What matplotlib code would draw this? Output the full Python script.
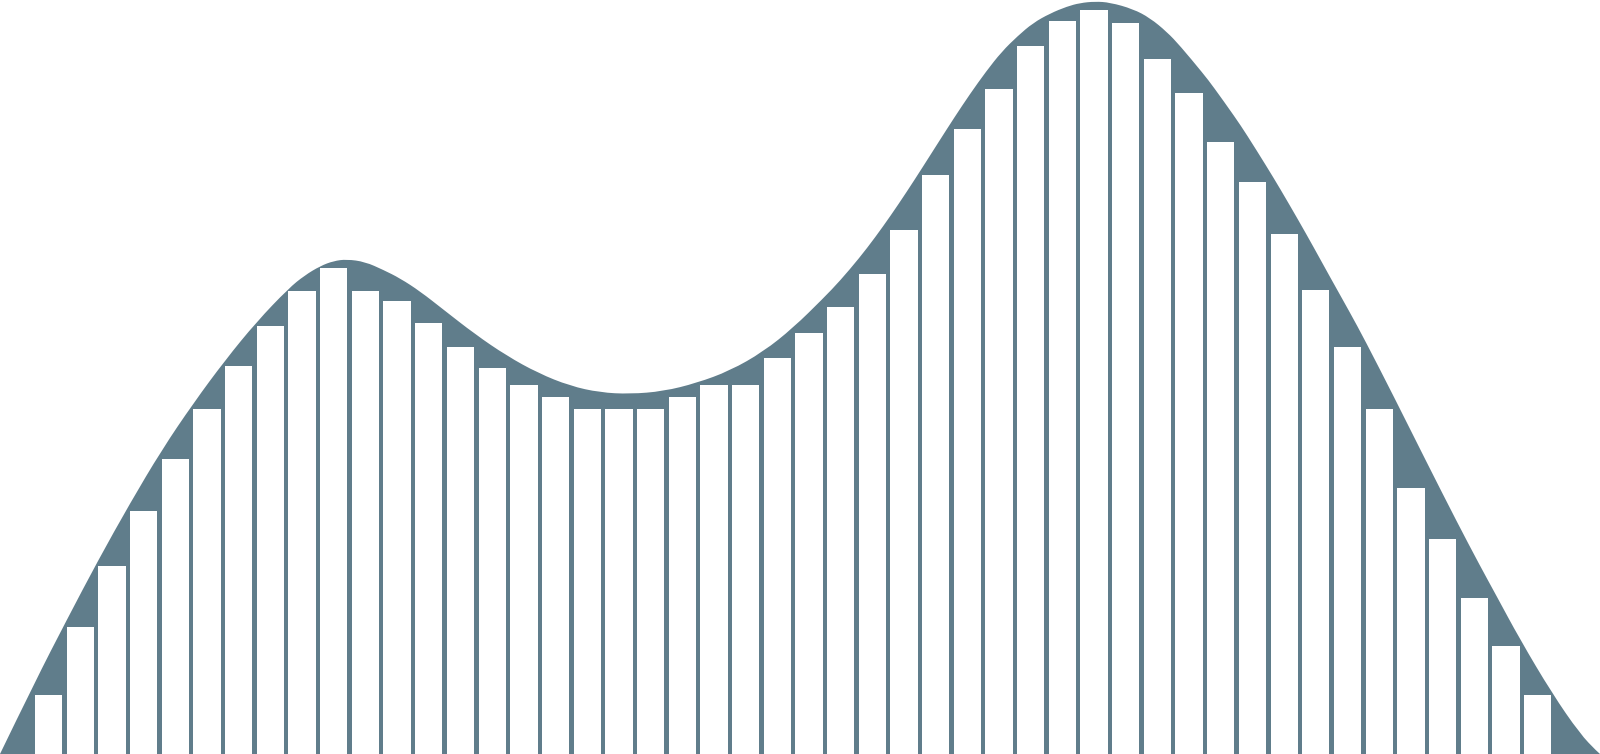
import matplotlib
matplotlib.use("Agg")
import matplotlib.pyplot as plt
from matplotlib.path import Path
from matplotlib.patches import PathPatch
import numpy as np

# histogram bars (48 bins), heights
bar_heights = [
    58.7, 127.3, 187.7, 242.7, 295.0, 344.7, 387.7, 428.0, 463.0, 486.0,
    463.0, 453.3, 431.5, 407.0, 386.0, 368.7, 356.7, 345.0, 345.0, 345.0,
    356.7, 368.7, 368.7, 396.0, 421.5, 447.3, 480.0, 524.0, 578.7, 624.7,
    664.7, 707.7, 733.5, 743.8, 731.2, 695.5, 660.7, 611.8, 572.0, 520.0,
    464.0, 407.5, 345.0, 266.0, 214.7, 155.8, 108.0, 58.8,
]

# density curve (x in bin units, y in bar units)
curve_x = [
    -1.536, -0.431, 0.570, 1.567, 2.568, 3.569, 4.566, 5.576, 6.567, 7.577,
    8.076, 8.575, 8.992, 9.408, 9.986, 10.563, 11.091, 11.722, 12.457, 13.458,
    14.459, 15.456, 16.457, 17.404, 18.351, 19.402, 20.456, 21.507, 22.558, 23.505,
    24.452, 24.979, 25.589, 26.084, 26.580, 27.085, 27.590, 28.083, 28.588, 29.083,
    29.588, 30.084, 30.589, 31.072, 31.608, 32.145, 32.555, 33.029, 33.502, 34.228,
    34.765, 35.301, 35.711, 36.447, 36.763, 37.448, 37.817, 38.449, 38.868, 39.446,
    39.920, 40.456, 41.078, 41.551, 42.457, 43.467, 44.465, 45.181, 45.687, 46.444,
    47.454, 48.338, 48.875, 48.970,
]
curve_y = [
    0.0, 72.3, 134.0, 194.0, 250.7, 304.0, 350.7, 394.0, 432.3, 465.7,
    478.5, 488.0, 493.0, 494.7, 492.2, 484.1, 475.7, 462.7, 444.5, 419.8,
    398.2, 380.8, 368.1, 361.5, 360.0, 362.7, 371.0, 383.3, 402.3, 426.3,
    455.7, 473.2, 496.0, 516.4, 538.4, 562.1, 586.9, 611.5, 636.5, 660.0,
    682.4, 702.3, 718.0, 731.0, 740.5, 747.5, 751.0, 752.5, 751.5, 745.0,
    736.0, 722.0, 708.3, 680.3, 667.3, 636.9, 619.4, 587.4, 565.5, 534.0,
    507.4, 476.5, 441.4, 413.7, 357.7, 293.7, 231.4, 188.3, 159.0, 114.6,
    60.8, 20.2, 2.5, 0.0,
]

slate = "#607D8B"

fig = plt.figure(figsize=(16, 7.54), dpi=100)
ax = fig.add_axes([0, 0, 1, 1])

# smooth outline: sample points used as quadratic bezier controls
pts = list(zip(curve_x, curve_y))
verts = [pts[0]]
codes = [Path.MOVETO]
for i in range(1, len(pts) - 1):
    nxt = pts[i + 1] if i == len(pts) - 2 else (
        (pts[i][0] + pts[i + 1][0]) / 2, (pts[i][1] + pts[i + 1][1]) / 2)
    verts += [pts[i], nxt]
    codes += [Path.CURVE3, Path.CURVE3]
verts.append(pts[0])
codes.append(Path.CLOSEPOLY)

ax.add_patch(PathPatch(Path(verts, codes), facecolor=slate,
                       edgecolor="none", zorder=1))
ax.bar(np.arange(len(bar_heights)), bar_heights, width=0.862,
       color="white", edgecolor="none", zorder=2)

ax.set_xlim(-1.536, 48.97)
ax.set_ylim(0, 754)
ax.axis("off")

fig.savefig("out.png", dpi=100, facecolor="white")
